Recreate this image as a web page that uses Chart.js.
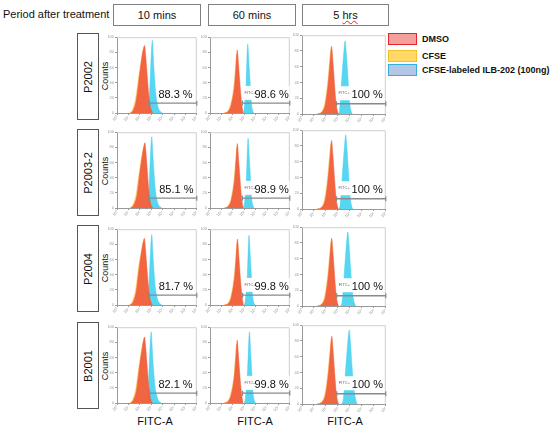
<!DOCTYPE html>
<html>
<head>
<meta charset="utf-8">
<script src="https://cdn.jsdelivr.net/npm/chart.js@4"></script>
<style>
  body { margin: 0; background: #fff; font-family: Arial, "Liberation Sans", sans-serif; color: #111; }
  #fig { position: relative; width: 553px; height: 435px; overflow: hidden; }
  .title { position: absolute; left: 3px; top: 8px; font-size: 11px; white-space: nowrap; }
  .hbox { position: absolute; top: 4px; height: 22px; box-sizing: border-box; border: 1px solid #808080;
          font-size: 11px; text-align: center; line-height: 20px; }
  .rbox { position: absolute; left: 77px; width: 22px; box-sizing: border-box; border: 1px solid #555; }
  .rot { position: absolute; left: 50%; top: 50%; transform: translate(-50%, -50%) rotate(-90deg); white-space: nowrap; }
  .panel { position: absolute; }
  .xlab { position: absolute; font-size: 11px; transform: translateX(-50%); white-space: nowrap; }
  .leg { position: absolute; left: 388px; width: 29px; height: 12px; box-sizing: border-box; border: 1.5px solid; }
  .legt { position: absolute; left: 422px; font-size: 9px; font-weight: bold; white-space: nowrap; }
</style>
</head>
<body>
<div id="fig"></div>
<script>
// labels
const periodTitle = 'Period after treatment';
const periods = ['10 mins', '60 mins', '5 hrs'];
const samples = ['P2002', 'P2003-2', 'P2004', 'B2001'];
const legendLabels = ['DMSO', 'CFSE', 'CFSE-labeled ILB-202 (100ng)'];
const xTitle = 'FITC-A';
const yTitle = 'Counts';
const xTickLabels = ['10⁰', '10¹', '10²', '10³', '10⁴', '10⁵', '10⁶', '10⁷'];
const yTickLabels = ['0', '20', '40', '60', '80', '100'];

// % of cells in the gate, [row][column]
const percents = [
  [88.3, 98.6, 100],
  [85.1, 98.9, 100],
  [81.7, 99.8, 100],
  [82.1, 99.8, 100]
];

// gate start (log decades) and level
const gateStart = [
  [2.77, 2.85, 2.88],
  [2.79, 2.85, 2.88],
  [2.80, 2.86, 2.90],
  [2.85, 2.86, 2.90]
];
const gateLevel = 13;

// where the % text sits, [row][column]
const labelX = [
  [3.63, 3.02, 3.05],
  [3.70, 3.02, 3.05],
  [3.66, 3.02, 3.08],
  [3.63, 3.02, 3.08]
];
const labelY = 20;

// histograms : [x in decades, counts]
const dmso = [
  [
    [[1.2,0],[1.41,3],[1.7,17],[1.99,51],[2.2,75],[2.42,89],[2.52,75],[2.62,56],[2.79,24],[2.95,7],[3.15,0]],
    [[1.3,0],[1.6,2],[1.87,11],[2.16,37],[2.3,65],[2.39,83],[2.5,65],[2.59,46],[2.7,25],[2.79,11],[2.9,0]],
    [[1.3,0],[1.65,2],[1.95,12],[2.2,40],[2.37,70],[2.47,86],[2.58,68],[2.7,42],[2.82,18],[2.95,4],[3.05,0]]
  ],
  [
    [[1.2,0],[1.45,3],[1.75,16],[2.02,48],[2.25,72],[2.45,86],[2.55,72],[2.65,52],[2.8,22],[2.95,6],[3.15,0]],
    [[1.3,0],[1.6,2],[1.88,11],[2.16,38],[2.3,66],[2.4,85],[2.5,66],[2.6,46],[2.7,25],[2.8,10],[2.92,0]],
    [[1.3,0],[1.65,2],[1.95,12],[2.2,41],[2.37,71],[2.47,87],[2.58,69],[2.7,43],[2.82,18],[2.95,4],[3.05,0]]
  ],
  [
    [[1.15,0],[1.4,3],[1.7,18],[1.98,52],[2.2,74],[2.4,88],[2.5,74],[2.6,54],[2.76,24],[2.92,7],[3.1,0]],
    [[1.3,0],[1.62,2],[1.9,12],[2.18,40],[2.32,68],[2.41,87],[2.52,67],[2.61,47],[2.72,25],[2.82,10],[2.94,0]],
    [[1.3,0],[1.66,2],[1.96,12],[2.21,40],[2.38,70],[2.48,86],[2.59,68],[2.71,42],[2.83,18],[2.96,4],[3.06,0]]
  ],
  [
    [[1.2,0],[1.42,3],[1.72,17],[2.0,50],[2.22,73],[2.42,87],[2.52,73],[2.62,54],[2.78,23],[2.94,6],[3.12,0]],
    [[1.3,0],[1.6,2],[1.87,11],[2.15,37],[2.29,64],[2.39,83],[2.49,64],[2.58,45],[2.69,24],[2.79,10],[2.9,0]],
    [[1.3,0],[1.66,2],[1.97,12],[2.22,40],[2.39,70],[2.49,86],[2.6,68],[2.72,42],[2.84,18],[2.97,4],[3.07,0]]
  ]
];

const cfse = [
  [
    [[1.1,0],[1.35,4],[1.62,18],[1.92,50],[2.15,72],[2.36,84],[2.47,70],[2.57,50],[2.72,22],[2.88,6],[3.05,0]],
    [[1.2,0],[1.52,2],[1.8,11],[2.1,36],[2.24,61],[2.34,78],[2.45,61],[2.54,42],[2.65,22],[2.74,9],[2.85,0]],
    [[1.2,0],[1.58,2],[1.88,12],[2.14,39],[2.31,67],[2.42,82],[2.53,64],[2.65,39],[2.77,16],[2.9,4],[3.0,0]]
  ],
  [
    [[1.1,0],[1.38,4],[1.66,17],[1.95,47],[2.18,69],[2.39,81],[2.5,67],[2.6,47],[2.74,20],[2.9,5],[3.05,0]],
    [[1.2,0],[1.52,2],[1.82,11],[2.1,36],[2.25,62],[2.35,80],[2.45,62],[2.55,43],[2.65,22],[2.75,9],[2.86,0]],
    [[1.2,0],[1.58,2],[1.88,12],[2.14,40],[2.31,68],[2.42,83],[2.53,65],[2.65,40],[2.77,16],[2.9,4],[3.0,0]]
  ],
  [
    [[1.05,0],[1.33,4],[1.62,19],[1.9,51],[2.13,71],[2.34,83],[2.45,69],[2.55,49],[2.7,22],[2.86,6],[3.0,0]],
    [[1.2,0],[1.55,2],[1.84,12],[2.12,38],[2.26,64],[2.36,82],[2.47,63],[2.56,44],[2.67,22],[2.77,9],[2.88,0]],
    [[1.2,0],[1.59,2],[1.89,12],[2.15,39],[2.32,67],[2.43,82],[2.54,64],[2.66,39],[2.78,16],[2.91,4],[3.01,0]]
  ],
  [
    [[1.1,0],[1.36,4],[1.64,18],[1.93,49],[2.16,70],[2.36,82],[2.47,68],[2.57,49],[2.72,21],[2.88,5],[3.02,0]],
    [[1.2,0],[1.52,2],[1.8,11],[2.09,35],[2.23,60],[2.34,78],[2.44,60],[2.53,42],[2.64,21],[2.74,9],[2.85,0]],
    [[1.2,0],[1.59,2],[1.9,12],[2.16,39],[2.33,67],[2.44,82],[2.55,64],[2.67,39],[2.79,16],[2.92,4],[3.02,0]]
  ]
];

const labeled = [
  [
    [[2.6,0],[2.75,6],[2.9,40],[3.0,75],[3.1,96],[3.2,70],[3.3,45],[3.43,22],[3.6,8],[3.8,2],[4.0,0]],
    [[2.9,0],[3.0,6],[3.17,41],[3.31,91],[3.42,65],[3.52,41],[3.62,15],[3.75,3],[3.85,0]],
    [[3.0,0],[3.13,4],[3.35,51],[3.5,80],[3.6,93],[3.7,78],[3.82,51],[3.95,20],[4.09,4],[4.2,0]]
  ],
  [
    [[2.55,0],[2.7,6],[2.85,40],[2.95,74],[3.05,94],[3.15,70],[3.25,46],[3.38,22],[3.55,8],[3.75,2],[3.95,0]],
    [[2.92,0],[3.02,6],[3.2,42],[3.34,92],[3.45,66],[3.55,40],[3.65,14],[3.78,3],[3.88,0]],
    [[3.05,0],[3.18,4],[3.4,50],[3.55,80],[3.65,94],[3.75,78],[3.87,50],[4.0,20],[4.14,4],[4.25,0]]
  ],
  [
    [[2.55,0],[2.7,7],[2.85,42],[2.95,73],[3.05,93],[3.15,68],[3.25,44],[3.38,21],[3.55,8],[3.75,2],[3.95,0]],
    [[3.0,0],[3.1,6],[3.28,42],[3.42,92],[3.53,66],[3.63,40],[3.73,14],[3.86,3],[3.96,0]],
    [[3.2,0],[3.35,5],[3.57,50],[3.72,80],[3.83,94],[3.93,78],[4.05,50],[4.2,20],[4.35,5],[4.5,0]]
  ],
  [
    [[2.5,0],[2.65,6],[2.8,40],[2.9,74],[3.0,94],[3.1,70],[3.2,46],[3.33,23],[3.5,9],[3.7,2],[3.9,0]],
    [[3.0,0],[3.1,6],[3.3,44],[3.46,94],[3.57,66],[3.67,40],[3.77,14],[3.9,3],[4.0,0]],
    [[3.3,0],[3.45,6],[3.65,45],[3.82,78],[3.95,94],[4.05,78],[4.18,48],[4.33,20],[4.5,5],[4.6,0]]
  ]
];

//----------------------------------------------
// page layout (pixels)
const fig = document.getElementById('fig');
const colLeft = [117, 210, 302];
const colWidth = [81, 81, 85];
const rowTop = [37, 132, 229, 327];
const plotH = 77;
const boxLeft = [113, 208, 302];
const boxTop = [33, 129, 225, 322];
const padL = 9, padT = 4, padR = 4, padB = 11;

function addDiv(cls, css, html) {
  const d = document.createElement('div');
  d.className = cls;
  Object.assign(d.style, css);
  d.innerHTML = html;
  fig.appendChild(d);
  return d;
}

addDiv('title', {}, periodTitle);
periods.forEach((p, i) => {
  const html = p.replace('hrs', '<span style="text-decoration: underline wavy #e02020; text-decoration-thickness: 1px;">hrs</span>');
  addDiv('hbox', { left: boxLeft[i] + 'px', width: (i == 2 ? 87 : 88) + 'px' }, html);
});

samples.forEach((s, r) => {
  addDiv('rbox', { top: boxTop[r] + 'px', height: '87px' }, '<span class="rot" style="font-size:11px">' + s + '</span>');
  addDiv('', { position: 'absolute', left: '105px', top: (rowTop[r] + plotH / 2) + 'px', width: '0px', height: '0px' },
    '<span class="rot" style="font-size:9px">' + yTitle + '</span>');
});

[155, 255, 345].forEach(x => addDiv('xlab', { left: x + 'px', top: '415px' }, xTitle));

// legend
const legFill = ['#f4a09c', '#ffd966', '#b4c7e7'];
const legLine = ['#e3242b', '#f2c12e', '#31b0e0'];
const legTop = [33, 50, 64];
legendLabels.forEach((t, i) => {
  addDiv('leg', { top: legTop[i] + 'px', background: legFill[i], borderColor: legLine[i] }, '');
  addDiv('legt', { top: (legTop[i] + 1) + 'px' }, t);
});

//----------------------------------------------
// frame + gate label
const panelDecor = {
  id: 'panelDecor',
  beforeDatasetsDraw(chart) {
    const { ctx, chartArea: a } = chart;
    ctx.save();
    ctx.strokeStyle = '#cfcfcf';
    ctx.lineWidth = 1;
    ctx.beginPath();
    ctx.moveTo(a.left, a.top + 0.5);
    ctx.lineTo(a.right - 0.5, a.top + 0.5);
    ctx.lineTo(a.right - 0.5, a.bottom);
    ctx.stroke();
    ctx.restore();
  },
  afterDatasetsDraw(chart, args, opts) {
    const { ctx, scales: { x, y } } = chart;
    const px = x.getPixelForValue(opts.labelX);
    const py = y.getPixelForValue(opts.labelY);
    ctx.save();
    ctx.font = '11px Arial, "Liberation Sans", sans-serif';
    const w = ctx.measureText(opts.text).width;
    ctx.fillStyle = '#fff';
    ctx.fillRect(px - 1, py - 12, opts.offset + w + 2, 14);
    if (opts.prefix) {
      ctx.font = '4px Arial, "Liberation Sans", sans-serif';
      ctx.fillStyle = '#666';
      ctx.textBaseline = 'alphabetic';
      ctx.fillText(opts.prefix, px, py - 4);
    }
    ctx.font = '11px Arial, "Liberation Sans", sans-serif';
    ctx.fillStyle = '#111';
    ctx.fillText(opts.text, px + opts.offset, py);
    ctx.restore();
  }
};

function histo(data, color, order) {
  return {
    data: data,
    backgroundColor: color,
    borderColor: color,
    borderWidth: 0.5,
    fill: 'origin',
    pointRadius: 0,
    cubicInterpolationMode: 'monotone',
    order: order
  };
}

samples.forEach((s, r) => {
  periods.forEach((p, c) => {
    const w = colWidth[c];
    const h = c == 2 ? plotH + 3 : plotH;
    const top = c == 2 ? rowTop[r] - 2 : rowTop[r];
    const holder = addDiv('panel', { left: (colLeft[c] - padL) + 'px', top: (top - padT) + 'px' }, '');
    const canvas = document.createElement('canvas');
    canvas.width = w + padL + padR;
    canvas.height = h + padT + padB;
    holder.appendChild(canvas);

    const chart = new Chart(canvas, {
      type: 'line',
      data: {
        datasets: [
          {
            data: [[gateStart[r][c], gateLevel], [7, gateLevel]],
            borderColor: '#8a8a8a',
            borderWidth: 1.3,
            fill: false,
            pointStyle: 'line',
            rotation: 90,
            pointRadius: 2.5,
            pointBorderColor: '#8a8a8a',
            pointBorderWidth: 1.2,
            clip: false,
            order: 0
          },
          histo(dmso[r][c], 'rgba(240,92,62,0.92)', 1),
          histo(cfse[r][c], 'rgba(255,190,80,0.9)', 2),
          histo(labeled[r][c], 'rgba(64,208,240,0.88)', 3)
        ]
      },
      plugins: [panelDecor],
      options: {
        animation: false,
        responsive: false,
        events: [],
        layout: { padding: { top: padT, right: padR, left: 0, bottom: 0 } },
        plugins: {
          legend: { display: false },
          tooltip: { enabled: false },
          panelDecor: {
            text: percents[r][c] + ' %',
            labelX: labelX[r][c],
            labelY: labelY,
            prefix: c == 0 ? '' : 'FITC+',
            offset: c == 0 ? 0 : (c == 1 ? 10 : 13)
          }
        },
        scales: {
          x: {
            type: 'linear',
            min: 0,
            max: 7,
            afterFit: sc => { sc.height = padB; },
            border: { color: '#9a9a9a' },
            grid: { drawOnChartArea: false, tickLength: 2, color: '#9a9a9a' },
            ticks: {
              stepSize: 1, autoSkip: false, minRotation: 45, maxRotation: 45, padding: 0,
              font: { size: 4 }, color: '#999',
              callback: v => xTickLabels[v]
            }
          },
          y: {
            min: 0,
            max: 100,
            afterFit: sc => { sc.width = padL; },
            border: { color: '#9a9a9a' },
            grid: { drawOnChartArea: false, tickLength: 2, color: '#9a9a9a' },
            ticks: {
              stepSize: 20, padding: 1,
              font: { size: 4 }, color: '#999',
              callback: v => yTickLabels[v / 20]
            }
          }
        }
      }
    });

    // put the plot area exactly where it is in the figure
    holder.style.left = (colLeft[c] - chart.chartArea.left) + 'px';
    holder.style.top = (top - chart.chartArea.top) + 'px';
  });
});
</script>
</body>
</html>
